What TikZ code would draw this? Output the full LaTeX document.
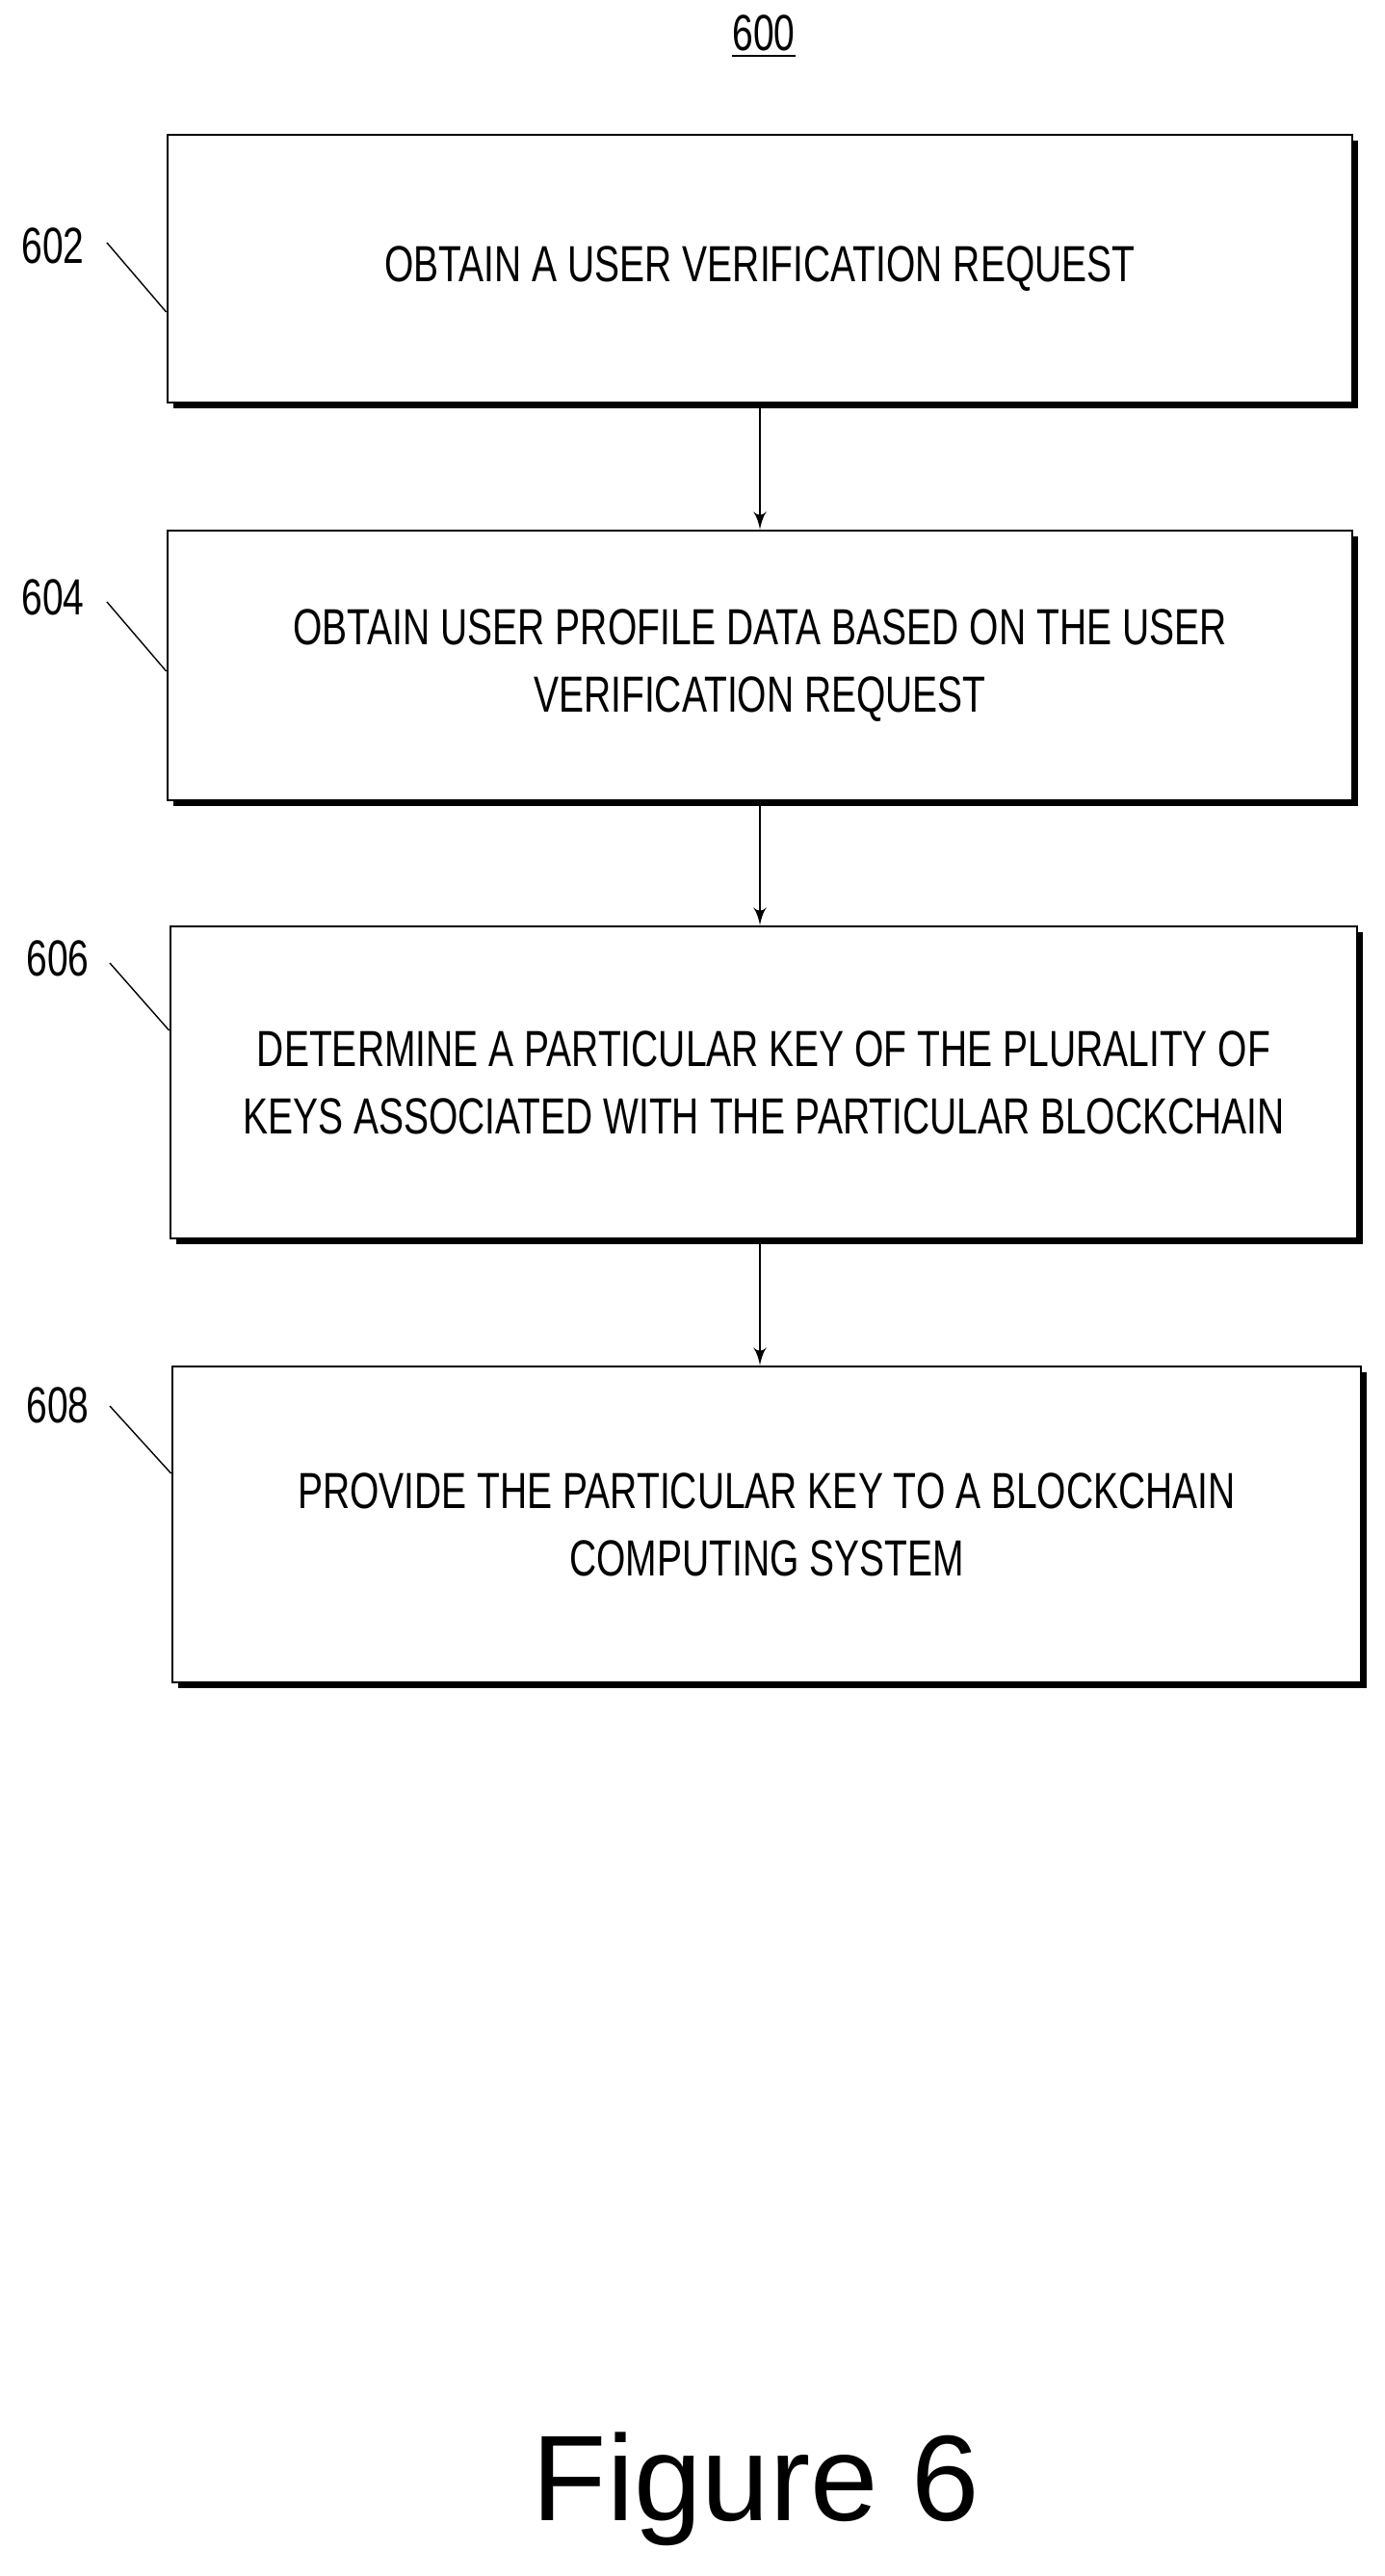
\documentclass[tikz,border=0pt]{standalone}
\usepackage{fontspec}
\setmainfont{Liberation Sans}
\newfontfamily\narrowfont{Liberation Sans}[FakeStretch=0.74]
\usetikzlibrary{arrows,shadows}
\begin{document}
\begin{tikzpicture}[auto, >=latex']
    \tikzstyle{block} = [draw, thick, rectangle, fill=white, minimum width=12.3cm, align=center,
      font=\narrowfont\fontsize{15pt}{20pt}\selectfont,
      drop shadow={shadow xshift=0.06cm, shadow yshift=-0.06cm, fill=black, opacity=1}];
    \tikzstyle{refnum} = [font=\narrowfont\fontsize{15pt}{18pt}\selectfont];
    \useasboundingbox (0,0) rectangle (14.38,-26.75);
    \node [refnum] (title) at (7.93,-0.38) {\underline{600}};
    \node [block, minimum height=2.78cm] (a) at (7.89,-2.79) {OBTAIN A USER VERIFICATION REQUEST};
    \node [block, minimum height=2.80cm] (b) at (7.89,-6.91) {OBTAIN USER PROFILE DATA BASED ON THE USER\\ VERIFICATION REQUEST};
    \node [block, minimum height=3.24cm, minimum width=12.32cm] (c) at (7.93,-11.24) {DETERMINE A PARTICULAR KEY OF THE PLURALITY OF\\ KEYS ASSOCIATED WITH THE PARTICULAR BLOCKCHAIN};
    \node [block, minimum height=3.28cm, minimum width=12.34cm] (d) at (7.96,-15.83) {PROVIDE THE PARTICULAR KEY TO A BLOCKCHAIN\\ COMPUTING SYSTEM};
    \node [refnum] (la) at (0.55,-2.55) {602};
    \node [refnum] (lb) at (0.55,-6.2) {604};
    \node [refnum] (lc) at (0.6,-9.95) {606};
    \node [refnum] (ld) at (0.6,-14.59) {608};
    \draw [thin] (1.11,-2.52) -- (a.west |- 0,-3.24);
    \draw [thin] (1.11,-6.25) -- (b.west |- 0,-6.97);
    \draw [thin] (1.14,-10.0) -- (c.west |- 0,-10.7);
    \draw [thin] (1.14,-14.6) -- (d.west |- 0,-15.3);
    \draw [->, thick] (a) -- (b);
    \draw [->, thick] (b) -- (c.north -| b);
    \draw [->, thick] (c.south -| b) -- (d.north -| b);
    \node [font=\fontsize{36pt}{40pt}\selectfont] (fig) at (7.85,-25.85) {Figure 6};
\end{tikzpicture}
\end{document}
